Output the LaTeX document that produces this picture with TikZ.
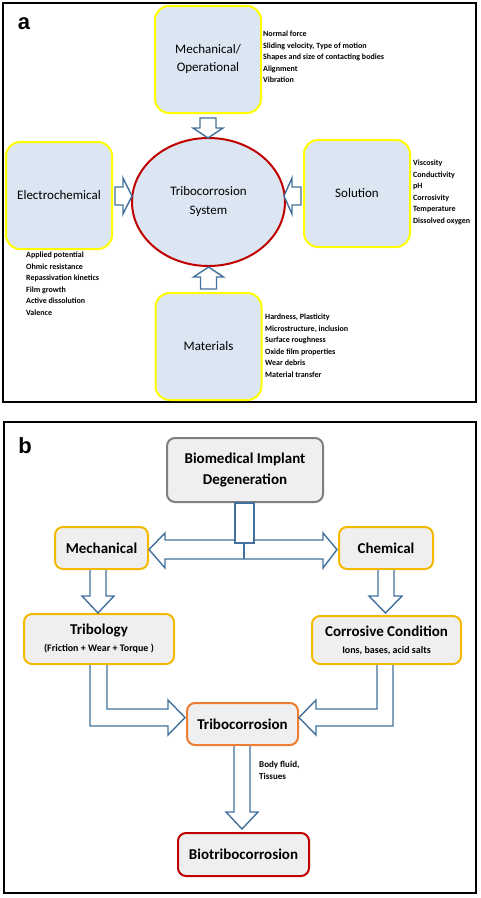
\documentclass[tikz,border=0pt]{standalone}
\usepackage{fontspec}
\setmainfont{Carlito}
\newfontfamily\panelfont{Liberation Sans}
\usetikzlibrary{shapes.geometric}

\definecolor{fillblue}{HTML}{DCE6F2}
\definecolor{boxyellow}{HTML}{FFFF00}
\definecolor{sysred}{HTML}{C00000}
\definecolor{arrowblue}{HTML}{41719C}
\definecolor{fillgray}{HTML}{EFEFEF}
\definecolor{boxgray}{HTML}{7F7F7F}
\definecolor{boxgold}{HTML}{F5B800}
\definecolor{boxorange}{HTML}{ED7D31}

\begin{document}
\begin{tikzpicture}[
          x=1pt,y=-1pt,
          frame/.style={draw=black, line width=2.5pt},
          factor/.style={
            draw=boxyellow,
            line width=2pt,
            fill=fillblue,
            rounded corners=14pt,
            minimum width=106pt,
            minimum height=107pt,
            align=center,
            font=\fontsize{13}{18}\selectfont,
          },
          flow/.style={
            draw=boxgold,
            line width=2pt,
            fill=fillgray,
            rounded corners=8pt,
            align=center,
            font=\fontsize{15}{18}\selectfont\bfseries,
          },
          items/.style={
            anchor=north west,
            inner sep=0pt,
            align=left,
            font=\fontsize{8}{11.5}\selectfont\bfseries,
          },
          barrow/.style={draw=arrowblue, fill=white, line width=1.4pt, line join=miter},
        ]
        \useasboundingbox (0,0) rectangle (481,898);
        % panel a
        \draw[frame] (3,3) rectangle (476,402);
        \node[inner sep=0pt, font=\panelfont\fontsize{22}{22}\selectfont\bfseries] (lbla) at (24,24) {a};
        \node[factor] (mech) at (208,59.5) {Mechanical/\\Operational};
        \node[factor] (ele) at (59,195.5) {Electrochemical};
        \node[factor] (sol) at (357,193.5) {Solution};
        \node[factor] (mat) at (208.5,346.5) {Materials};
        \node[ellipse, draw=sysred, line width=2pt, fill=fillblue, minimum width=153pt,
          minimum height=128pt, inner sep=0pt, align=center,
          font=\fontsize{13}{19}\selectfont] (sys) at (208.5,202) {Tribocorrosion\\System};
        \node[items] (mechlist) at (263,31) {Normal force\\Sliding velocity, Type of motion\\Shapes and size of contacting bodies\\Alignment\\Vibration};
        \node[items] (elelist) at (26,252) {Applied potential\\Ohmic resistance\\Repassivation kinetics\\Film growth\\Active dissolution\\Valence};
        \node[items] (sollist) at (413,160) {Viscosity\\Conductivity\\pH\\Corrosivity\\Temperature\\Dissolved oxygen};
        \node[items] (matlist) at (265,314) {Hardness, Plasticity\\Microstructure, inclusion\\Surface roughness\\Oxide film properties\\Wear debris\\Material transfer};
        \draw[barrow] ([xshift=-8pt,yshift=-4pt]mech.south) -- ++(16,0) -- ++(0,10) -- ++(7,0)
          -- ++(-15,10) -- ++(-15,-10) -- ++(7,0) -- cycle;
        \draw[barrow] ([xshift=2pt,yshift=8.5pt]ele.east) -- ++(8,0) -- ++(0,-9) -- ++(9,18)
          -- ++(-9,18) -- ++(0,-9) -- ++(-8,0) -- cycle;
        \draw[barrow] ([xshift=-2pt,yshift=6.5pt]sol.west) -- ++(-9,0) -- ++(0,-9) -- ++(-8,18)
          -- ++(8,18) -- ++(0,-9) -- ++(9,0) -- cycle;
        \draw[barrow] ([xshift=-8pt,yshift=3pt]mat.north) -- ++(0,-12) -- ++(-7,0) -- ++(15,-10)
          -- ++(15,10) -- ++(-7,0) -- ++(0,12) -- cycle;
        % panel b
        \draw[frame] (4,422) rectangle (476,893);
        \node[inner sep=0pt, font=\panelfont\fontsize{22}{22}\selectfont\bfseries] (lblb) at (25,446) {b};
        \node[flow, draw=boxgray, minimum width=156pt, minimum height=64pt,
          font=\fontsize{15}{21}\selectfont\bfseries] (bio) at (245,470) {Biomedical Implant\\Degeneration};
        \node[flow, minimum width=93pt, minimum height=42pt] (mechb) at (101.5,548) {Mechanical};
        \node[flow, minimum width=94pt, minimum height=42pt] (chem) at (386,548) {Chemical};
        \node[flow, minimum width=150pt, minimum height=50pt] (trib) at (99,639)
          {Tribology\\[-1pt]{\fontsize{10}{12}\selectfont (Friction + Wear + Torque )}};
        \node[flow, minimum width=149pt, minimum height=48pt] (corr) at (386.5,640)
          {Corrosive Condition\\[-1pt]{\fontsize{10}{12}\selectfont Ions, bases, acid salts}};
        \node[flow, draw=boxorange, minimum width=111pt, minimum height=42pt] (tc) at (242.5,724) {Tribocorrosion};
        \node[flow, draw=sysred, minimum width=131pt, minimum height=43pt] (btc) at (243.5,854.5) {Biotribocorrosion};
        \node[items, font=\fontsize{9}{12}\selectfont\bfseries] (fluid) at (259,761) {Body fluid,\\Tissues};
        % split arrow under the top box
        \draw[barrow] ([xshift=-96pt,yshift=-46.5pt]bio.south) -- ++(16,-16.5) -- ++(0,7) -- ++(158,0)
          -- ++(0,-7) -- ++(14,16.5) -- ++(-14,18.5) -- ++(0,-9) -- ++(-158,0) -- ++(0,9) -- cycle;
        \draw[barrow] ([xshift=-10pt]bio.south) rectangle ++(19,40);
        \draw[draw=arrowblue, line width=1.4pt] ([xshift=-1pt,yshift=-40pt]bio.south) -- ++(0,16);
        \draw[barrow] ([xshift=-11.5pt]mechb.south) -- ++(0,26) -- ++(-8,0) -- ++(16,17)
          -- ++(16,-17) -- ++(-8,0) -- ++(0,-26);
        \draw[barrow] ([xshift=-8pt]chem.south) -- ++(0,26) -- ++(-9,0) -- ++(16.5,17)
          -- ++(16.5,-17) -- ++(-8,0) -- ++(0,-26);
        \draw[barrow] ([xshift=-9pt]trib.south) -- ++(0,61) -- ++(78,0) -- ++(0,9) -- ++(17,-17.5)
          -- ++(-17,-17.5) -- ++(0,9) -- ++(-61,0) -- ++(0,-44);
        \draw[barrow] ([xshift=6.5pt]corr.south) -- ++(0,61) -- ++(-77,0) -- ++(0,9) -- ++(-17,-17.5)
          -- ++(17,-17.5) -- ++(0,9) -- ++(61,0) -- ++(0,-44);
        \draw[barrow] ([xshift=-8.5pt]tc.south) -- ++(0,66) -- ++(-8,0) -- ++(16,17)
          -- ++(16,-17) -- ++(-8,0) -- ++(0,-66);
        \end{tikzpicture}
\end{document}
